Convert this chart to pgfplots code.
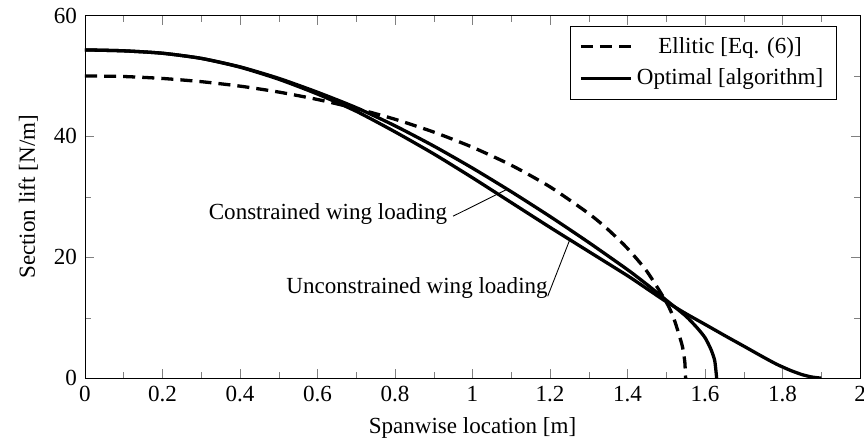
\documentclass[border=0pt]{standalone}
\usepackage{fontspec}
\setmainfont{Liberation Serif}
\usepackage{pgfplots}
\pgfplotsset{compat=1.18}
\begin{document}
\fontsize{10.5}{12.6}\selectfont
\begin{tikzpicture}
\begin{axis}[
  scale only axis,
  width=353pt, height=165.2pt,
  xmin=0, xmax=2, ymin=0, ymax=60,
  xtick={0,0.2,...,2.01},
  ytick={0,20,40,60},
  minor x tick num=1,
  minor y tick num=1,
  /pgf/number format/assume math mode=true,
  xlabel={Spanwise location [m]},
  ylabel={Section lift [N/m]},
  legend cell align=center,
  legend style={at={(0.97,0.972)}, anchor=north east, draw=black,
    row sep=1.5pt, inner xsep=4pt, inner ysep=3pt},
  legend image code/.code={\draw[#1] (0cm,0cm) -- (0.8cm,0cm);},
]
\addplot[black, line width=1.5pt, dash pattern=on 5.5pt off 3.2pt, smooth, tension=0.4] coordinates {
(0,50) (0.1,49.90) (0.2,49.58) (0.3,49.05) (0.4,48.31) (0.5,47.33) (0.6,46.10)
(0.7,44.61) (0.8,42.83) (0.9,40.71) (1.0,38.20) (1.1,35.23) (1.2,31.65)
(1.3,27.23) (1.35,24.57) (1.4,21.46) (1.45,17.67) (1.5,12.60) (1.52,9.79)
(1.54,5.67) (1.545,4.02) (1.548,2.54) (1.55,0)
};
\addlegendentry{Ellitic [Eq. (6)]}
% constrained
\addplot[black, line width=1.5pt, smooth, tension=0.4] coordinates {
(0,54.3) (0.1,54.15) (0.2,53.75) (0.3,52.9) (0.4,51.5) (0.5,49.6) (0.6,47.3)
(0.7,44.75) (0.8,41.75) (0.9,38.4) (1.0,34.75) (1.1,30.85) (1.2,26.75)
(1.3,22.45) (1.4,17.95) (1.45,15.5) (1.5,12.9) (1.55,10.3) (1.58,8.3)
(1.6,6.7) (1.615,4.8) (1.625,2.9) (1.63,0)
};
\addlegendentry{Optimal [algorithm]}
% unconstrained
\addplot[black, line width=1.5pt, smooth, tension=0.4, forget plot] coordinates {
(0,54.3) (0.1,54.15) (0.2,53.75) (0.3,52.9) (0.4,51.45) (0.5,49.45) (0.6,47.0)
(0.7,44.15) (0.8,40.75) (0.9,37.1) (1.0,33.15) (1.1,29.05) (1.2,24.95)
(1.3,20.95) (1.4,16.95) (1.45,14.8) (1.5,12.65) (1.55,10.7) (1.6,8.9)
(1.655,6.9) (1.7,5.3) (1.75,3.5) (1.785,2.3) (1.82,1.3) (1.85,0.6)
(1.875,0.2) (1.9,0)
};
\node at (axis cs:0.627,27.1) {Constrained wing loading};
\draw[thin] (axis cs:0.950,26.8) -- (axis cs:1.088,31.2);
\node at (axis cs:0.857,14.9) {Unconstrained wing loading};
\draw[thin] (axis cs:1.194,13.55) -- (axis cs:1.251,22.9);
\end{axis}
\coordinate (R) at ([xshift=1.8pt]current axis.east);
\coordinate (L) at ([xshift=-5pt]current axis.outer west);
\pgfresetboundingbox
\path (current axis.outer south west -| L) rectangle (current axis.outer north east -| R);
\end{tikzpicture}
\end{document}
